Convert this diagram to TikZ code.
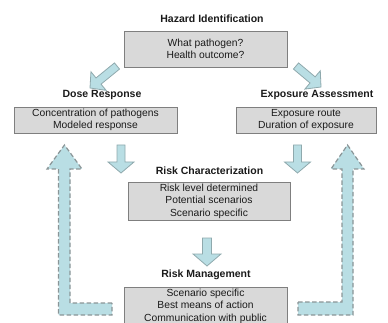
\documentclass[tikz,border=0pt]{standalone}
\usepackage{fontspec}
\setmainfont{Liberation Sans}
\usetikzlibrary{calc}
\definecolor{boxfill}{HTML}{D9D9D9}
\definecolor{boxline}{HTML}{7F7F7F}
\definecolor{arrfill}{HTML}{B9DEE4}
\definecolor{arrline}{HTML}{8FA9AD}
\definecolor{dashline}{HTML}{8A9597}
\definecolor{txt}{HTML}{1A1A1A}
\tikzset{
  infobox/.style={draw=boxline, fill=boxfill, line width=0.9pt, align=center, inner sep=0pt,
    font=\fontsize{10.3}{12.5}\selectfont, text=txt},
  title/.style={font=\bfseries\fontsize{10.5}{12}\selectfont, text=txt, inner sep=0pt},
  blockarr/.style={draw=arrline, fill=arrfill, line width=0.8pt, line join=miter},
  dasharr/.style={draw=dashline, fill=arrfill, line width=1.2pt, dash pattern=on 4.5pt off 2.5pt, line join=miter}
}
% tail, tip, shaft half width, head half width, head length
\newcommand\myblockarrow[5]{%
  \path[blockarr] ($(#1)!#3!90:(#2)$) -- ($($(#2)!#5!(#1)$)!#3!-90:(#1)$)
    -- ($($(#2)!#5!(#1)$)!#4!-90:(#1)$) -- (#2)
    -- ($($(#2)!#5!(#1)$)!#4!90:(#1)$) -- ($($(#2)!#5!(#1)$)!#3!90:(#1)$)
    -- ($(#1)!#3!-90:(#2)$) -- cycle;}
\begin{document}
\begin{tikzpicture}[x=1pt,y=-1pt]
\useasboundingbox (0,0) rectangle (388,323);
% titles
\node[title] (th) at (212,19) {Hazard Identification};
\node[title] (td) at (102,95) {Dose Response};
\node[title] (te) at (317,95) {Exposure Assessment};
\node[title] (tc) at (209.5,171) {Risk Characterization};
\node[title] (tm) at (206,275) {Risk Management};
% boxes
\node[infobox, minimum width=163pt, minimum height=36pt] (hz) at (205.5,49) {What pathogen?\\Health outcome?};
\node[infobox, minimum width=163pt, minimum height=26pt] (dr) at (95.5,120) {Concentration of pathogens\\Modeled response};
\node[infobox, minimum width=140pt, minimum height=26pt] (ea) at (306,120) {Exposure route\\Duration of exposure};
\node[infobox, minimum width=162pt, minimum height=38pt] (rc) at (209,201) {Risk level determined\\Potential scenarios\\Scenario specific};
\node[infobox, minimum width=163pt, minimum height=38pt] (rm) at (205.5,306) {Scenario specific\\Best means of action\\Communication with public};
% block arrows
\coordinate (a1s) at (117,66);  \coordinate (a1e) at (90,88);
\coordinate (a2s) at (296,66);  \coordinate (a2e) at (321,87);
\coordinate (a3s) at (121,145); \coordinate (a3e) at (121,173);
\coordinate (a4s) at (297.5,145); \coordinate (a4e) at (297.5,173);
\coordinate (a5s) at (207,238); \coordinate (a5e) at (207,266);
\myblockarrow{a1s}{a1e}{4pt}{12pt}{11pt}
\myblockarrow{a2s}{a2e}{4pt}{12pt}{11pt}
\myblockarrow{a3s}{a3e}{4pt}{13pt}{11pt}
\myblockarrow{a4s}{a4e}{4pt}{13pt}{11pt}
\myblockarrow{a5s}{a5e}{4.5pt}{14pt}{12pt}
% dashed feedback arrows
\path[dasharr] (112,303) -- (70,303) -- (70,169) -- (82,169) -- (64.5,145) -- (47,169)
  -- (58.5,169) -- (58.5,315) -- (112,315) -- cycle;
\path[dasharr] (298,302) -- (342,302) -- (342,169) -- (331,169) -- (347.5,145) -- (364,169)
  -- (353,169) -- (353,315) -- (298,315) -- cycle;
\end{tikzpicture}
\end{document}
